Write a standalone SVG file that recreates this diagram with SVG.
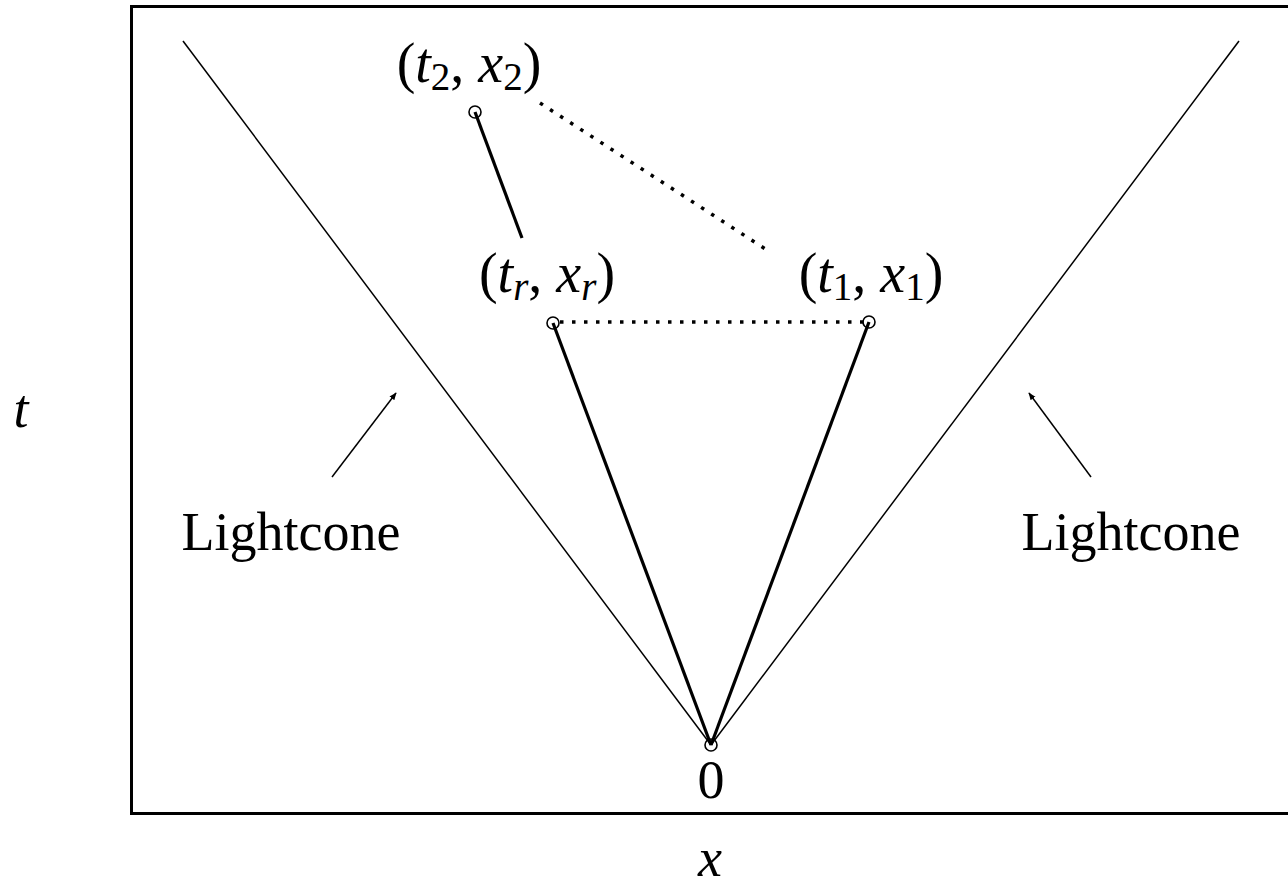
<svg xmlns="http://www.w3.org/2000/svg" width="1288" height="890" viewBox="0 0 1288 890">
<style>
.lbl{font-family:"Liberation Serif","Times New Roman",serif;font-size:54px;fill:#000}
.math{font-size:56px}
.it{font-style:italic}
.sub{font-size:39px}
.thin{stroke:#000;stroke-width:1.5;fill:none}
.thick{stroke:#000;stroke-width:3.2;fill:none}
.dot{stroke:#000;stroke-width:3.5;stroke-dasharray:3.5 8.5;fill:none}
.pt{stroke:#000;stroke-width:1.6;fill:none}
</style>
<defs>
<marker id="ah" viewBox="0 0 10 10" refX="9" refY="5" markerWidth="5" markerHeight="5" orient="auto" markerUnits="strokeWidth">
<path d="M0,1 L10,5 L0,9 Z" fill="#000"/>
</marker>
</defs>
<rect x="131.5" y="6.5" width="1162" height="807" fill="none" stroke="#000" stroke-width="3"/>
<g id="connectors">
<line class="thin" x1="183" y1="41" x2="711" y2="745"/>
<line class="thin" x1="1239" y1="41" x2="711" y2="745"/>
<line class="thick" x1="553" y1="323" x2="711" y2="745"/>
<line class="thick" x1="869" y1="322" x2="711" y2="745"/>
<line class="thick" x1="475" y1="112" x2="522" y2="238"/>
<line class="dot" x1="540" y1="103" x2="770" y2="252"/>
<line class="dot" x1="560" y1="322" x2="866" y2="322"/>
<line class="thin" stroke-width="2" x1="332" y1="477" x2="396" y2="393" marker-end="url(#ah)"/>
<line class="thin" stroke-width="2" x1="1091" y1="477" x2="1029" y2="393" marker-end="url(#ah)"/>
</g>
<g id="origin">
<circle class="pt" cx="711" cy="745" r="6"/>
<text class="lbl" x="711" y="798" text-anchor="middle">0</text>
</g>
<g id="pr">
<circle class="pt" cx="553" cy="323" r="6"/>
<text class="lbl math" x="547" y="292" text-anchor="middle">(<tspan class="it">t</tspan><tspan class="sub it" dy="8">r</tspan><tspan dy="-8">, </tspan><tspan class="it">x</tspan><tspan class="sub it" dy="8">r</tspan><tspan dy="-8">)</tspan></text>
</g>
<g id="p1">
<circle class="pt" cx="869" cy="322" r="6"/>
<text class="lbl math" x="871" y="292" text-anchor="middle">(<tspan class="it">t</tspan><tspan class="sub" dy="8">1</tspan><tspan dy="-8">, </tspan><tspan class="it">x</tspan><tspan class="sub" dy="8">1</tspan><tspan dy="-8">)</tspan></text>
</g>
<g id="p2">
<circle class="pt" cx="475" cy="112" r="6"/>
<text class="lbl math" x="469" y="82" text-anchor="middle">(<tspan class="it">t</tspan><tspan class="sub" dy="8">2</tspan><tspan dy="-8">, </tspan><tspan class="it">x</tspan><tspan class="sub" dy="8">2</tspan><tspan dy="-8">)</tspan></text>
</g>
<g id="lightcone-left">
<text class="lbl" x="291" y="550" text-anchor="middle">Lightcone</text>
</g>
<g id="lightcone-right">
<text class="lbl" x="1131" y="550" text-anchor="middle">Lightcone</text>
</g>
<g id="axis-t">
<text class="lbl it" x="21" y="427" text-anchor="middle">t</text>
</g>
<g id="axis-x">
<text class="lbl it" x="710" y="876" text-anchor="middle">x</text>
</g>
</svg>
